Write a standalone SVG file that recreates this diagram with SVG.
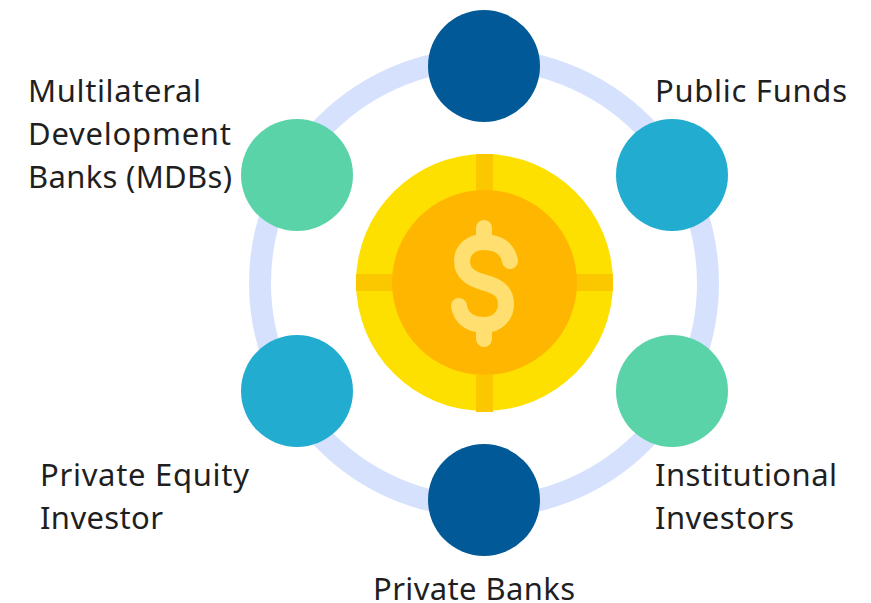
<svg xmlns="http://www.w3.org/2000/svg" width="871" height="603" viewBox="0 0 871 603">
<style>
text{font-family:"Noto Sans","Open Sans",sans-serif;font-size:31px;fill:#1f1f1f}
.ring{fill:none;stroke:#d6e2fd;stroke-width:22}
.teal{fill:#5ad3a8}.blue{fill:#22acd0}.navy{fill:#015a97}
</style>
<rect width="871" height="603" fill="#fff"/>
<g id="connectors"><circle class="ring" cx="484" cy="283" r="224"/></g>
<g id="coin">
<circle cx="484.500" cy="282.500" r="128.500" fill="#fde000"/>
<path d="M476 154h17v37h-17zM476 375h17v37h-17zM356 274h37v17h-37zM576 274h37v17h-37z" fill="#fbc800"/>
<circle cx="484.500" cy="282.500" r="92.500" fill="#ffb600"/>
<path d="M510 261C508 249 498 242 484 242C471 242 462 250 462 261C462 274 472 279 484 282.500C497 286 506 291 506 304C506 316 497 325 484 325C470 325 461 318 459 306M484 228V240M484 327V339" fill="none" stroke="#ffdf70" stroke-width="16" stroke-linecap="round"/>
</g>
<g id="node-top"><circle class="navy" cx="484" cy="66" r="56"/></g>
<g id="node-public-funds"><circle class="blue" cx="672" cy="175" r="56"/><text x="655" y="102" textLength="192">Public Funds</text></g>
<g id="node-institutional"><circle class="teal" cx="672" cy="391" r="56"/><text x="655" y="486" textLength="182">Institutional</text><text x="655" y="529" textLength="139">Investors</text></g>
<g id="node-private-banks"><circle class="navy" cx="484" cy="500" r="56"/><text x="373" y="600" textLength="202">Private Banks</text></g>
<g id="node-private-equity"><circle class="blue" cx="297" cy="391" r="56"/><text x="40" y="486" textLength="209">Private Equity</text><text x="40" y="529" textLength="123">Investor</text></g>
<g id="node-mdbs"><circle class="teal" cx="297" cy="175" r="56"/><text x="28" y="102" textLength="173">Multilateral</text><text x="28" y="145" textLength="203">Development</text><text x="28" y="188" textLength="204">Banks (MDBs)</text></g>
</svg>
